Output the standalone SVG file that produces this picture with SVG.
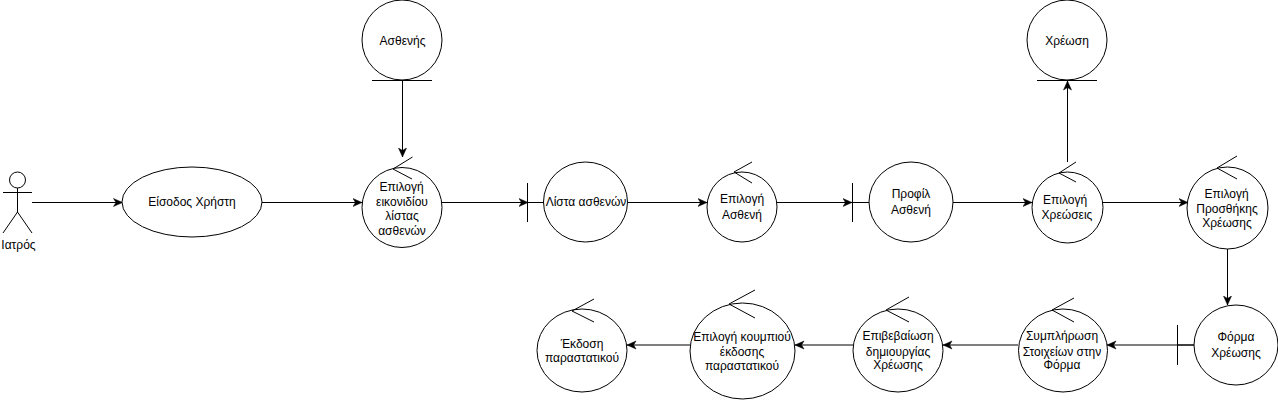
<svg xmlns="http://www.w3.org/2000/svg" width="1278" height="401" viewBox="0 0 1278 401">
<style>
.s{fill:#fff;stroke:#000;stroke-width:1}
.l{fill:none;stroke:#000;stroke-width:1}
text{font-family:"Liberation Sans",Arial,sans-serif;font-size:12px;fill:#000;text-anchor:middle}
</style>
<defs>
<marker id="a" markerUnits="userSpaceOnUse" markerWidth="10" markerHeight="10" refX="9.500" refY="5" orient="auto" viewBox="0 0 10 10">
<path d="M0.500 1 L9.500 5 L0.500 9 L3 5 Z" fill="#000" stroke="#000" stroke-width="0.500"/>
</marker>
</defs>
<rect width="1278" height="401" fill="#fff"/>
<g id="connectors" class="l">
<path class="l" marker-end="url(#a)" d="M32 202.500H122.500"/>
<path class="l" marker-end="url(#a)" d="M262 202.500H362"/>
<path class="l" marker-end="url(#a)" d="M402.500 80V157"/>
<path class="l" marker-end="url(#a)" d="M442 202.500H528"/>
<path class="l" marker-end="url(#a)" d="M628 202.500H707"/>
<path class="l" marker-end="url(#a)" d="M777 202.500H852"/>
<path class="l" marker-end="url(#a)" d="M953 202.500H1032"/>
<path class="l" marker-end="url(#a)" d="M1067.500 162V81"/>
<path class="l" marker-end="url(#a)" d="M1102 202.500H1188"/>
<path class="l" marker-end="url(#a)" d="M1227.500 247V305"/>
<path class="l" marker-end="url(#a)" d="M1194 345H1107"/>
<path class="l" marker-end="url(#a)" d="M1018 345H943"/>
<path class="l" marker-end="url(#a)" d="M853 345H795"/>
<path class="l" marker-end="url(#a)" d="M690 345H627"/>
</g>
<g id="actor-iatros">
<circle class="s" cx="17.500" cy="180" r="8"/>
<path class="l" d="M17.500 188V212M3 192.500H32M17.500 212L3 233M17.500 212L32 233"/>
<text x="18.500" y="249">Ιατρός</text>
</g>
<g id="usecase-eisodos">
<ellipse class="s" cx="192" cy="202" rx="70" ry="35"/>
<text x="192" y="206">Είσοδος Χρήστη</text>
</g>
<g id="entity-asthenis">
<ellipse class="s" cx="402" cy="40" rx="40" ry="40"/>
<path class="l" d="M372 80.500H432"/>
<text x="402.500" y="45">Ασθενής</text>
</g>
<g id="control-eikonidio">
<ellipse class="s" cx="402" cy="207.500" rx="40" ry="40"/>
<path class="l" d="M412.500 157L393 169L412 179"/>
<text x="401.500" y="191">Επιλογή</text>
<text x="402" y="206">εικονιδίου</text>
<text x="402" y="220">λίστας</text>
<text x="402" y="235">ασθενών</text>
</g>
<g id="boundary-lista">
<ellipse class="s" cx="585.500" cy="202" rx="42" ry="40"/>
<path class="l" d="M527.500 183V222M528 202.500H544"/>
<text x="586" y="206">Λίστα ασθενών</text>
</g>
<g id="control-epilogi-astheni">
<ellipse class="s" cx="742" cy="207" rx="35" ry="35"/>
<path class="l" d="M752 162L734 172L752 183"/>
<text x="742" y="203">Επιλογή</text>
<text x="742" y="219">Ασθενή</text>
</g>
<g id="boundary-profil">
<ellipse class="s" cx="911" cy="202" rx="42" ry="40"/>
<path class="l" d="M852.500 183V222M853 202.500H869"/>
<text x="911" y="198">Προφίλ</text>
<text x="911" y="214">Ασθενή</text>
</g>
<g id="control-xreoseis">
<ellipse class="s" cx="1067.500" cy="207.500" rx="35.500" ry="35.500"/>
<path class="l" d="M1076 162L1059 173L1076 182"/>
<text x="1065" y="204">Επιλογή</text>
<text x="1067" y="219">Χρεώσεις</text>
</g>
<g id="entity-xreosi">
<ellipse class="s" cx="1067" cy="40" rx="40" ry="40"/>
<path class="l" d="M1037 80.500H1097"/>
<text x="1067" y="45">Χρέωση</text>
</g>
<g id="control-prosthiki">
<ellipse class="s" cx="1227.500" cy="208" rx="40.500" ry="41"/>
<path class="l" d="M1237 156L1217 168L1237 179"/>
<text x="1226.500" y="198">Επιλογή</text>
<text x="1227" y="213">Προσθήκης</text>
<text x="1227" y="227">Χρέωσης</text>
</g>
<g id="boundary-forma">
<ellipse class="s" cx="1236" cy="345" rx="42" ry="40"/>
<path class="l" d="M1177.500 325V365M1178 345H1194"/>
<text x="1236" y="341">Φόρμα</text>
<text x="1236" y="357">Χρέωσης</text>
</g>
<g id="control-symplirosi">
<ellipse class="s" cx="1063" cy="350.500" rx="44.500" ry="41.500"/>
<path class="l" d="M1074 298L1052 310L1074 322"/>
<text x="1062" y="340">Συμπλήρωση</text>
<text x="1062" y="356">Στοιχείων στην</text>
<text x="1062" y="369">Φόρμα</text>
</g>
<g id="control-epivevaiosi">
<ellipse class="s" cx="898" cy="350.500" rx="45" ry="41.500"/>
<path class="l" d="M909 297L886 310L909 322"/>
<text x="898" y="340">Επιβεβαίωση</text>
<text x="898" y="356">δημιουργίας</text>
<text x="898" y="369">Χρέωσης</text>
</g>
<g id="control-koumpi">
<ellipse class="s" cx="742.500" cy="351" rx="52.500" ry="48"/>
<path class="l" d="M755 290L729 304L755 318"/>
<text x="742" y="341">Επιλογή κουμπιού</text>
<text x="742" y="356">έκδοσης</text>
<text x="742" y="370">παραστατικού</text>
</g>
<g id="control-ekdosi">
<ellipse class="s" cx="582" cy="350.500" rx="45" ry="41.500"/>
<path class="l" d="M594 299L572 311L594 322"/>
<text x="582" y="348">Έκδοση</text>
<text x="582" y="362">παραστατικού</text>
</g>
</svg>
